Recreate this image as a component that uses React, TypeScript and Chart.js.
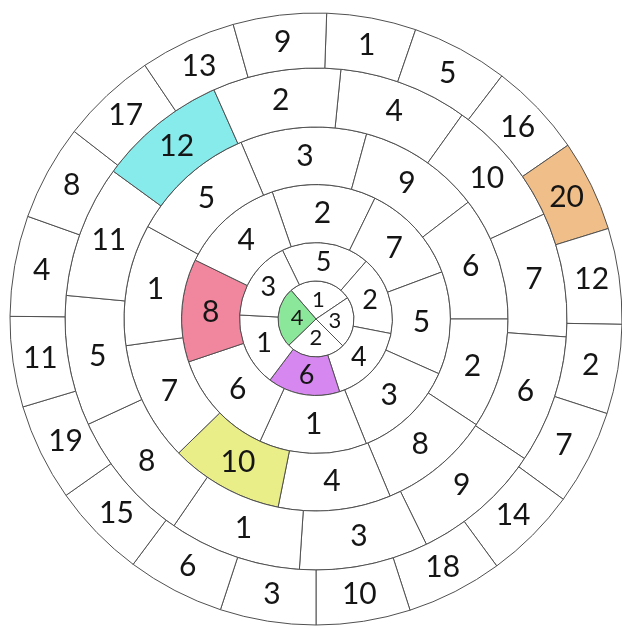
import { useEffect, useRef } from "react";
import { Chart, registerables } from "chart.js";

Chart.register(...registerables);

// Rings listed from the centre outwards. Spans are angular sizes (degrees), start is the
// clockwise angle from 12 o'clock where the first cell begins.
const ring1Labels = ["1", "3", "2", "4"];
const ring1Spans = [97, 79, 91, 93];
const ring1Start = 319;

const ring2Labels = ["5", "2", "4", "6", "1", "3"];
const ring2Spans = [67, 60, 61, 55, 56, 61];
const ring2Start = 334;

const ring3Labels = ["2", "7", "5", "3", "1", "6", "8", "4"];
const ring3Spans = [45, 43.5, 44.5, 44, 46.6, 46.8, 44.6, 45];
const ring3Start = 341;

const ring4Labels = ["3", "9", "6", "2", "8", "4", "10", "7", "1", "5"];
const ring4Spans = [38.3, 37.2, 37.5, 33.4, 33.9, 34.1, 34.3, 36.3, 36.8, 38.2];
const ring4Start = 337;

const ring5Labels = ["4", "10", "7", "6", "9", "3", "1", "8", "5", "11", "12", "2"];
const ring5Spans = [29.9, 29.7, 28.8, 29.7, 30.1, 29.9, 30.7, 30.7, 30.2, 30.7, 29.9, 29.7];
const ring5Start = 5.7;

const ring6Labels = ["1", "5", "16", "20", "12", "2", "7", "14", "18", "10", "3", "6", "15", "19", "11", "4", "8", "17", "13", "9"];
const ring6Spans = [17, 18.4, 18, 17.4, 18.2, 17, 18.1, 17.7, 18.3, 17.9, 18.2, 18.5, 18.1, 18.5, 17.2, 19.1, 18.2, 18.2, 18.3, 17.7];
const ring6Start = 2;

// highlighted cell (index) per ring, centre outwards
const highlightIndex = [3, 3, 6, 6, 10, 3];
const highlightColor = ["#8be89b", "#d688f0", "#f0879f", "#e9ee89", "#87ebec", "#f0be88"];
const ringWeight = [38, 38.5, 58, 57.5, 59, 55];
const ringFontSize = [22, 27, 30, 30, 30, 30];

const labelPlugin = {
  id: "cellLabels",
  afterDatasetsDraw(chart: any) {
    const ctx = chart.ctx;
    ctx.save();
    ctx.fillStyle = "#151515";
    ctx.textAlign = "center";
    ctx.textBaseline = "middle";
    chart.data.datasets.forEach((ds: any, di: number) => {
      const meta = chart.getDatasetMeta(di);
      ctx.font = ds.labelFont;
      meta.data.forEach((arc: any, i: number) => {
        const p = arc.getCenterPoint();
        ctx.fillText(ds.cellLabels[i], p.x, p.y);
      });
    });
    ctx.restore();
  },
};

export default function App() {
  const ref = useRef<HTMLCanvasElement>(null);
  useEffect(() => {
    const rings = [
      { labels: ring1Labels, spans: ring1Spans, start: ring1Start },
      { labels: ring2Labels, spans: ring2Spans, start: ring2Start },
      { labels: ring3Labels, spans: ring3Spans, start: ring3Start },
      { labels: ring4Labels, spans: ring4Spans, start: ring4Start },
      { labels: ring5Labels, spans: ring5Spans, start: ring5Start },
      { labels: ring6Labels, spans: ring6Spans, start: ring6Start },
    ];
    // Chart.js draws dataset 0 as the outermost ring
    const datasets = rings
      .map((r, ri) => ({
        data: r.spans,
        cellLabels: r.labels,
        labelFont: `${ringFontSize[ri]}px Lato`,
        backgroundColor: r.labels.map((_, i) => (i === highlightIndex[ri] ? highlightColor[ri] : "#ffffff")),
        borderColor: "#505050",
        borderWidth: 1,
        rotation: r.start,
        weight: ringWeight[ri],
      }))
      .reverse();
    const chart = new Chart(ref.current as HTMLCanvasElement, {
      type: "doughnut",
      data: { datasets } as any,
      options: {
        responsive: false,
        animation: false,
        radius: 306,
        cutout: 0,
        events: [],
        layout: { padding: { left: 10, top: 8, right: 0, bottom: 0 } },
        plugins: { legend: { display: false }, tooltip: { enabled: false } },
      } as any,
      plugins: [labelPlugin],
    });
    return () => chart.destroy();
  }, []);
  return (
    <canvas
      ref={ref}
      width={622}
      height={630}
      style={{ position: "absolute", left: 0, top: 0, width: 622, height: 630 }}
    />
  );
}
